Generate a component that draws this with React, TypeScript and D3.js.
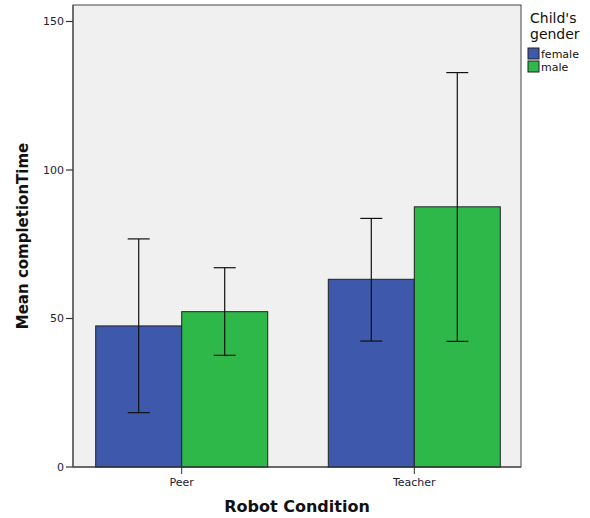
import React from 'react'
import * as d3 from 'd3'

const conditions = ['Peer', 'Teacher']
const genders = ['female', 'male']
const means = [
  [47.5, 52.3],
  [63.2, 87.6]
]
const lowers = [
  [18.3, 37.6],
  [42.4, 42.3]
]
const uppers = [
  [76.8, 67.1],
  [83.7, 132.8]
]
const yTicks = [0, 50, 100, 150]
const colors = ['#3e58ac', '#2fb84a']

const width = 590
const height = 518
const plot = { left: 73, right: 521, top: 5, bottom: 467 }

const y = d3.scaleLinear().domain([0, 150]).range([plot.bottom, 21.5])

const x = d3
  .scaleBand()
  .domain(conditions)
  .range([plot.left, plot.left + 450])
  .paddingInner(0.2605)
  .paddingOuter(0.0976)

const xg = d3.scaleBand().domain(genders).range([0, x.bandwidth()])

const font = 'DejaVu Sans, sans-serif'

export default function App() {
  return (
    <svg
      width={width}
      height={height}
      style={{ position: 'absolute', left: 0, top: 0 }}
      fontFamily={font}
    >
      <rect width={width} height={height} fill="#fff" />
      <rect
        x={plot.left}
        y={plot.top}
        width={plot.right - plot.left}
        height={plot.bottom - plot.top}
        fill="#f0f0f0"
        stroke="#444"
        strokeWidth={1}
      />
      {conditions.map((c, i) => (
        <g key={c} transform={`translate(${x(c)},0)`}>
          {genders.map((g, j) => (
            <rect
              key={g}
              x={xg(g)}
              y={y(means[i][j])}
              width={xg.bandwidth()}
              height={y(0) - y(means[i][j])}
              fill={colors[j]}
              stroke="#222"
              strokeWidth={1}
            />
          ))}
          {genders.map((g, j) => {
            const cx = (xg(g) as number) + xg.bandwidth() / 2
            return (
              <g key={g} stroke="#111" strokeWidth={1.2}>
                <line x1={cx} x2={cx} y1={y(uppers[i][j])} y2={y(lowers[i][j])} />
                <line x1={cx - 11} x2={cx + 11} y1={y(uppers[i][j])} y2={y(uppers[i][j])} />
                <line x1={cx - 11} x2={cx + 11} y1={y(lowers[i][j])} y2={y(lowers[i][j])} />
              </g>
            )
          })}
        </g>
      ))}
      {/* axes */}
      <line x1={plot.left} x2={plot.right} y1={plot.bottom} y2={plot.bottom} stroke="#333" />
      <line x1={plot.left} x2={plot.left} y1={plot.top} y2={plot.bottom} stroke="#555" strokeWidth={1.3} />
      {yTicks.map(t => (
        <g key={t} transform={`translate(0,${y(t)})`}>
          <line x1={plot.left - 7} x2={plot.left} stroke="#333" strokeWidth={1.2} />
          <text x={plot.left - 9} dy="0.35em" textAnchor="end" fontSize={11} fill="#223">
            {t}
          </text>
        </g>
      ))}
      {conditions.map(c => {
        const cx = (x(c) as number) + x.bandwidth() / 2
        return (
          <g key={c}>
            <line x1={cx} x2={cx} y1={plot.bottom} y2={plot.bottom + 7} stroke="#333" />
            <text x={cx} y={plot.bottom + 19} textAnchor="middle" fontSize={11} fill="#223">
              {c}
            </text>
          </g>
        )
      })}
      <text
        x={297}
        y={512}
        textAnchor="middle"
        fontSize={16}
        fontWeight="bold"
        fill="#111"
      >
        Robot Condition
      </text>
      <text
        transform={`translate(28,${(plot.top + plot.bottom) / 2}) rotate(-90)`}
        textAnchor="middle"
        fontSize={15}
        fontWeight="bold"
        fill="#111"
      >
        Mean completionTime
      </text>
      {/* legend */}
      <text x={530} y={23} fontSize={14} fill="#111">Child's</text>
      <text x={530} y={39} fontSize={14} fill="#111">gender</text>
      {genders.map((g, j) => (
        <g key={g} transform={`translate(528,${48 + j * 13})`}>
          <rect width={11} height={11} fill={colors[j]} stroke="#222" />
          <text x={13} y={9.5} fontSize={11} fill="#111">
            {g}
          </text>
        </g>
      ))}
    </svg>
  )
}
